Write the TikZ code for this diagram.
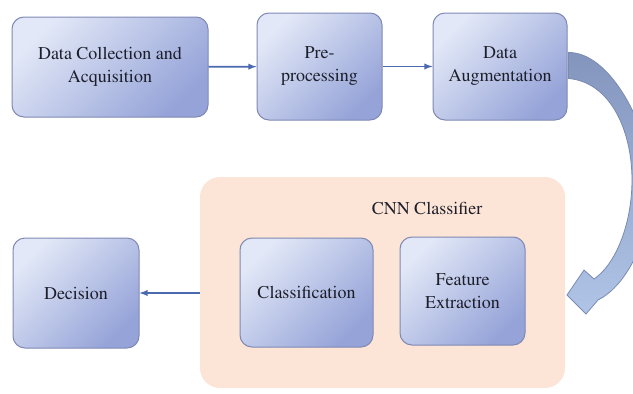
\documentclass[tikz,border=0pt]{standalone}
\usepackage[T1]{fontenc}
\usepackage{mathptmx}
\usetikzlibrary{calc}

\definecolor{boxtop}{HTML}{E2E8F7}
\definecolor{boxbot}{HTML}{95A3D8}
\definecolor{boxline}{HTML}{7F89B4}
\definecolor{cnnfill}{HTML}{FCE4D6}
\definecolor{arrowblue}{HTML}{4A69AE}
\definecolor{bandtop}{HTML}{8395BD}
\definecolor{bandbot}{HTML}{AFC4E6}
\definecolor{bandline}{HTML}{7A8BB2}
\definecolor{textdark}{HTML}{1C1E2A}

\tikzset{
    label text/.style={font=\rmfamily\fontsize{18}{23}\selectfont, text=textdark},
    stage/.style={draw=boxline, line width=1pt, rounded corners=12pt,
        top color=boxtop, bottom color=boxbot, shading angle=45,
        align=center, label text, inner sep=2pt},
    flow/.style={draw=arrowblue, line width=1.8pt, -latex}
}

\begin{document}
\begin{tikzpicture}[x=1pt, y=-1pt]
    \useasboundingbox (0,0) rectangle (633,394);

    \node[fill=cnnfill, rounded corners=20pt, minimum width=365pt, minimum height=211pt] (cnn) at (382.5,282.5) {};
    \node[label text] (cnntitle) at (427,208) {CNN Classifier};

    \node[stage, minimum width=196pt, minimum height=100pt] (dca) at (110,67) {Data Collection and\\Acquisition};
    \node[stage, minimum width=125pt, minimum height=107pt] (pre) at (319.5,66.5) {Pre-\\processing};
    \node[stage, minimum width=134pt, minimum height=107pt] (aug) at (500,66.5) {Data\\Augmentation};
    \node[stage, minimum width=126pt, minimum height=110pt] (dec) at (76,293) {Decision};
    \node[stage, minimum width=133pt, minimum height=109pt] (cls) at (306.5,292.5) {Classification};
    \node[stage, minimum width=125pt, minimum height=108pt] (fex) at (462.5,291) {Feature\\Extraction};

    \draw[flow] (dca) -- (pre);
    \draw[flow] (pre) -- (aug);
    \draw[flow] (cnn.west |- dec.east) -- (dec.east);

    \begin{scope}
        \clip (0,0) rectangle (633,394);
        \draw[draw=bandline, line width=0.8pt, top color=bandtop, bottom color=bandbot]
            ($(aug.east)+(1,-14)$) .. controls (610,52) and (648,125) .. (652,180)
            .. controls (652,235) and (628,285) .. (598,300)
            -- (586,314) -- (567,295) -- (584,270) -- (594,279)
            .. controls (615,265) and (632,225) .. (632,180)
            .. controls (632,130) and (610,82) .. ($(aug.east)+(1,12)$) -- cycle;
    \end{scope}
\end{tikzpicture}
\end{document}
